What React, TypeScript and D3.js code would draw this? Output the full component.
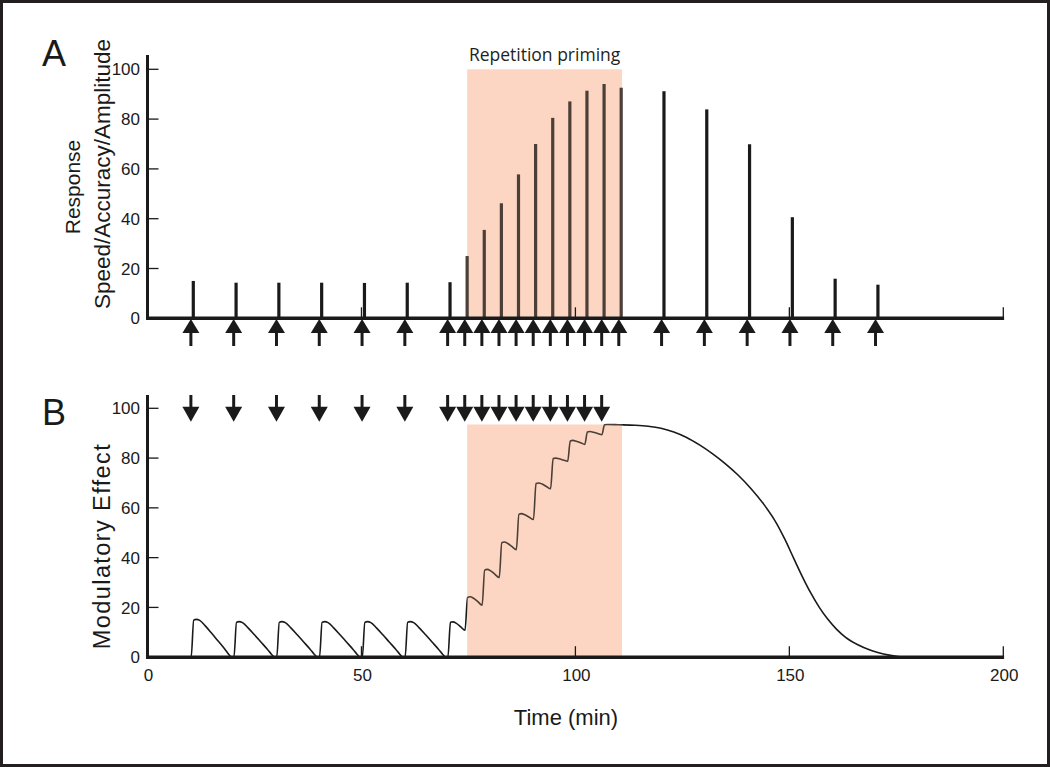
import React from "react";
import * as d3 from "d3";

// ---------- data ----------
const stimulusTimes = [10, 20, 30, 40, 50, 60, 70, 74, 78, 82, 86, 90, 94, 98, 102, 106, 110, 120, 130, 140, 150, 160, 170];
const responseValues = [15, 14.3, 14.3, 14.3, 14.2, 14.3, 14.5, 25, 35.5, 46.2, 57.8, 70, 80.5, 87.1, 91.4, 94.1, 92.6, 91.2, 83.9, 69.9, 40.6, 15.9, 13.5];
const primeTimes = [10, 20, 30, 40, 50, 60, 70, 74, 78, 82, 86, 90, 94, 98, 102, 106];
const shadeRange = [74.7, 110.9];
const shadeTopB = 93.5;
const yTicks = [0, 20, 40, 60, 80, 100];
const xTicks = [0, 50, 100, 150, 200];

// modulatory effect curve: [time, value]
const effectCurve: [number, number][] = [
  [0, 0], [10.2, 0], [10.8, 14.9], [11.4, 15.2], [12.2, 14.8], [13.5, 12.6], [15, 9.6], [16.5, 6.5], [18, 3.4], [19, 1.1], [19.6, 0.1], [20.2, 0],
  [20.8, 14], [21.4, 14.3], [22.2, 13.9], [23.5, 11.8], [25, 9], [26.5, 6.1], [28, 3.2], [29, 1.1], [29.6, 0.1], [30.2, 0],
  [30.8, 14], [31.4, 14.3], [32.2, 13.9], [33.5, 11.8], [35, 9], [36.5, 6.1], [38, 3.2], [39, 1.1], [39.6, 0.1], [40.2, 0],
  [40.8, 14], [41.4, 14.3], [42.2, 13.9], [43.5, 11.8], [45, 9], [46.5, 6.1], [48, 3.2], [49, 1.1], [49.6, 0.1], [50.2, 0],
  [50.8, 14], [51.4, 14.3], [52.2, 13.9], [53.5, 11.8], [55, 9], [56.5, 6.1], [58, 3.2], [59, 1.1], [59.6, 0.1], [60.2, 0],
  [60.8, 14], [61.4, 14.3], [62.2, 13.9], [63.5, 11.8], [65, 9], [66.5, 6.1], [68, 3.2], [69, 1.1], [69.6, 0.1], [70.2, 0],
  [70.8, 14], [71.4, 14.2], [72.2, 13.6], [73.2, 12.2], [74.2, 10.8],
  [74.8, 24], [75.4, 24.3], [76.2, 23.7], [77.2, 22.3], [78.2, 20.9],
  [78.8, 35], [79.4, 35.3], [80.2, 34.7], [81.2, 33.3], [82.2, 32],
  [82.8, 46], [83.4, 46.3], [84.2, 45.7], [85.2, 44.4], [86.2, 43.2],
  [86.8, 57.4], [87.4, 57.7], [88.2, 57.2], [89.2, 56.2], [90.2, 55.3],
  [90.8, 69.8], [91.4, 70], [92.2, 69.6], [93.2, 68.6], [94.2, 67.7],
  [94.8, 79.8], [95.4, 80], [96.2, 79.7], [97.2, 79.2], [98.2, 78.7],
  [98.8, 86.9], [99.4, 87.1], [100.2, 86.8], [101.2, 86.2], [102.2, 85.5],
  [102.8, 90.5], [103.4, 90.7], [104.2, 90.4], [105.2, 89.9], [106.2, 89.4],
  [106.8, 93.4], [107.5, 93.5], [110, 93.4], [114, 93.2], [117, 92.8], [120, 92], [123, 90.5], [126, 88.3],
  [129, 85.3], [132, 81.8], [135, 77.8], [138, 73.2], [141, 67.8], [144, 61.5], [147, 53.8], [149, 47.2],
  [151, 39.8], [153, 32.5], [155, 25.8], [157, 20], [159, 15.2], [161, 11.3], [163, 8.2], [166, 5],
  [169, 2.8], [172, 1.3], [175, 0.4], [177, 0],
];

// ---------- layout ----------
const W = 1050;
const H = 767;
const x = d3.scaleLinear().domain([0, 200]).range([147.5, 1003.3]);
const yA = d3.scaleLinear().domain([0, 100]).range([318.3, 69.3]);
const yB = d3.scaleLinear().domain([0, 100]).range([657.2, 408.3]);

const INK = "#1a1a1a";
const SHADE = "#fcd6c2";
const INK_IN_SHADE = "#4b3f38";
const LABEL_FONT = "'Liberation Sans', Arial, sans-serif";

function UpArrow({ cx }: { cx: number }) {
  const top = 319;
  const base = 333;
  return (
    <g>
      <path d={`M${cx},${top} L${cx - 8.5},${base} L${cx + 8.5},${base} Z`} fill={INK} />
      <line x1={cx} x2={cx} y1={base - 1} y2={346} stroke={INK} strokeWidth={3} />
    </g>
  );
}

function DownArrow({ cx }: { cx: number }) {
  const tip = 421.7;
  const base = 406.7;
  return (
    <g>
      <line x1={cx} x2={cx} y1={395} y2={base + 1} stroke={INK} strokeWidth={3} />
      <path d={`M${cx},${tip} L${cx - 8.5},${base} L${cx + 8.5},${base} Z`} fill={INK} />
    </g>
  );
}

export default function App() {
  const line = d3
    .line<[number, number]>()
    .x((d) => x(d[0]))
    .y((d) => yB(d[1]))
    .curve(d3.curveMonotoneX);
  const pathD = line(effectCurve) || "";

  const sx0 = x(shadeRange[0]);
  const sx1 = x(shadeRange[1]);

  return (
    <svg
      width={W}
      height={H}
      viewBox={`0 0 ${W} ${H}`}
      style={{ position: "fixed", left: 0, top: 0, background: "#fff" }}
    >
      <defs>
        <clipPath id="inShadeB">
          <rect x={sx0} y={0} width={sx1 - sx0} height={H} />
        </clipPath>
        <clipPath id="outShadeB">
          <path d={`M0,0 H${sx0} V${H} H0 Z M${sx1},0 H${W} V${H} H${sx1} Z`} />
        </clipPath>
      </defs>
      <rect x={0} y={0} width={W} height={H} fill="#fff" />

      {/* ---------- Panel A ---------- */}
      <rect x={sx0} y={yA(100)} width={sx1 - sx0} height={yA(0) - yA(100)} fill={SHADE} />
      <text x={(sx0 + sx1) / 2} y={61} textAnchor="middle" fontFamily="'Open Sans', sans-serif" fontSize={17.5} fill="#231f20">
        Repetition priming
      </text>

      {stimulusTimes.map((t, i) => {
        const bx = x(t) + 3;
        const inShade = bx > sx0 && bx < sx1;
        return (
          <rect
            key={"bar" + i}
            x={bx - 1.6}
            y={yA(responseValues[i])}
            width={3.2}
            height={yA(0) - yA(responseValues[i])}
            fill={inShade ? INK_IN_SHADE : INK}
          />
        );
      })}

      {/* axes A */}
      <line x1={x(0)} x2={x(0)} y1={55} y2={320} stroke={INK} strokeWidth={3} />
      <line x1={x(0) - 1.5} x2={x(200) + 0.8} y1={yA(0)} y2={yA(0)} stroke={INK} strokeWidth={3.4} />
      {yTicks.map((v) => (
        <g key={"ya" + v}>
          {v > 0 && <line x1={x(0)} x2={x(0) + 11} y1={yA(v)} y2={yA(v)} stroke={INK} strokeWidth={1.3} />}
          <text x={140} y={yA(v)} dy="0.36em" textAnchor="end" fontFamily={LABEL_FONT} fontSize={17} fill={INK}>
            {v}
          </text>
        </g>
      ))}
      {xTicks.filter((v) => v > 0).map((v) => (
        <line key={"xa" + v} x1={x(v)} x2={x(v)} y1={yA(0)} y2={yA(0) - 11} stroke={INK} strokeWidth={1.3} />
      ))}

      {stimulusTimes.map((t, i) => (
        <UpArrow key={"ua" + i} cx={x(t) + 0.6} />
      ))}

      <text x={42} y={66} fontFamily={LABEL_FONT} fontSize={36} fill={INK}>A</text>
      <text transform="translate(80,187) rotate(-90)" textAnchor="middle" fontFamily={LABEL_FONT} fontSize={21} fill={INK}>
        Response
      </text>
      <text transform="translate(110,174) rotate(-90)" textAnchor="middle" fontFamily={LABEL_FONT} fontSize={22.5} fill={INK}>
        Speed/Accuracy/Amplitude
      </text>

      {/* ---------- Panel B ---------- */}
      <rect x={sx0} y={yB(shadeTopB)} width={sx1 - sx0} height={yB(0) - yB(shadeTopB)} fill={SHADE} />
      <path d={pathD} fill="none" stroke={INK} strokeWidth={1.6} clipPath="url(#outShadeB)" />
      <path d={pathD} fill="none" stroke={INK_IN_SHADE} strokeWidth={1.6} clipPath="url(#inShadeB)" />

      {primeTimes.map((t, i) => (
        <DownArrow key={"da" + i} cx={x(t) + 0.6} />
      ))}

      <line x1={x(0)} x2={x(0)} y1={395} y2={659} stroke={INK} strokeWidth={3} />
      <line x1={x(0) - 1.5} x2={x(200) + 0.8} y1={yB(0)} y2={yB(0)} stroke={INK} strokeWidth={3.4} />
      {yTicks.map((v) => (
        <g key={"yb" + v}>
          {v > 0 && <line x1={x(0)} x2={x(0) + 11} y1={yB(v)} y2={yB(v)} stroke={INK} strokeWidth={1.3} />}
          <text x={140} y={yB(v)} dy="0.36em" textAnchor="end" fontFamily={LABEL_FONT} fontSize={17} fill={INK}>
            {v}
          </text>
        </g>
      ))}
      {xTicks.map((v) => (
        <g key={"xb" + v}>
          {v > 0 && <line x1={x(v)} x2={x(v)} y1={yB(0)} y2={yB(0) - 11} stroke={INK} strokeWidth={1.3} />}
          <text x={x(v) + 1} y={680.5} textAnchor="middle" fontFamily={LABEL_FONT} fontSize={17} fill={INK}>
            {v}
          </text>
        </g>
      ))}

      <text x={42} y={425} fontFamily={LABEL_FONT} fontSize={36} fill={INK}>B</text>
      <text transform="translate(110,546) rotate(-90)" textAnchor="middle" fontFamily={LABEL_FONT} fontSize={23.5} letterSpacing={1.4} fill={INK}>
        Modulatory Effect
      </text>
      <text x={566} y={725} textAnchor="middle" fontFamily={LABEL_FONT} fontSize={22} fill={INK}>
        Time (min)
      </text>

      {/* frame */}
      <rect x={1.5} y={1.5} width={W - 3} height={H - 3} fill="none" stroke="#231f20" strokeWidth={3} />
    </svg>
  );
}
